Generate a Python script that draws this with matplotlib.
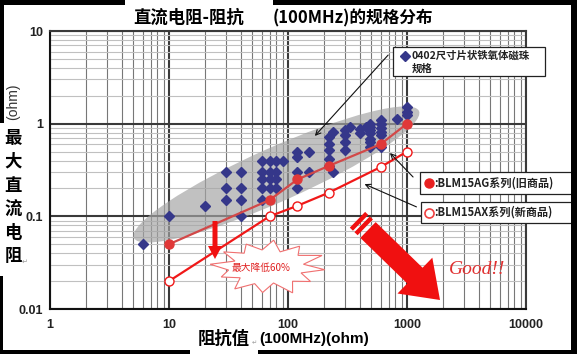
import numpy as np
import matplotlib
matplotlib.use('Agg')
import matplotlib.pyplot as plt
from matplotlib import patches
from matplotlib import transforms as mtransforms
from matplotlib.lines import Line2D

# ---------------- data ----------------
spec_x = [6, 10, 20,
          30, 30, 30,
          40, 40, 40, 40,
          60, 60, 60, 60, 60,
          70, 70, 70, 70,
          80, 80, 80, 80,
          90,
          120, 120, 120, 120,
          150, 150,
          220, 220, 220, 220, 220,
          240, 240,
          300, 300, 300, 300,
          330,
          400, 400,
          450,
          490, 490, 490, 490, 490, 490, 490,
          600, 600, 600, 600, 600, 600,
          820,
          1000, 1000, 1000]
spec_y = [0.05, 0.10, 0.13,
          0.15, 0.20, 0.30,
          0.10, 0.15, 0.20, 0.30,
          0.15, 0.20, 0.25, 0.30, 0.40,
          0.20, 0.25, 0.30, 0.40,
          0.20, 0.25, 0.30, 0.40,
          0.40,
          0.20, 0.30, 0.44, 0.50,
          0.30, 0.50,
          0.35, 0.42, 0.52, 0.61, 0.72,
          0.30, 0.82,
          0.52, 0.63, 0.75, 0.85,
          0.92,
          0.80, 0.88,
          0.92,
          0.56, 0.63, 0.69, 0.79, 0.85, 0.92, 1.00,
          0.56, 0.75, 0.82, 0.90, 1.00, 1.10,
          1.11,
          1.24, 1.35, 1.52]

ag_x = [10, 70, 120, 220, 600, 1000]
ag_y = [0.05, 0.15, 0.25, 0.35, 0.60, 1.00]

ax_x = [10, 70, 120, 220, 600, 1000]
ax_y = [0.02, 0.10, 0.13, 0.18, 0.34, 0.50]

x_ticks = [1, 10, 100, 1000, 10000]
x_tick_labels = ['1', '10', '100', '1000', '10000']
y_ticks = [0.01, 0.1, 1, 10]
y_tick_labels = ['0.01', '0.1', '1', '10']

title_left = '直流电阻-阻抗'
title_right = '(100MHz)的规格分布'
ylabel_unit = '(ohm)'
ylabel_chars = ['最', '大', '直', '流', '电', '阻']
xlabel_cjk = '阻抗值'
xlabel_rest = '(100MHz)(ohm)'
legend_spec = ['0402尺寸片状铁氧体磁珠', '规格']
legend_ag = ':BLM15AG系列(旧商品)'
legend_ax = ':BLM15AX系列(新商品)'
burst_text = '最大降低60%'
good_text = 'Good!!'

# ---------------- figure ----------------
W, H = 577, 354
fig = plt.figure(figsize=(W / 100, H / 100), dpi=100)
fig.patch.set_facecolor('white')
# top-left-origin pixel transform
PX = mtransforms.Affine2D().scale(1 / W, -1 / H).translate(0, 1) + fig.transFigure

CJK = ['Noto Sans CJK SC', 'DejaVu Sans']
LAT = ['Liberation Sans', 'DejaVu Sans']

L, R, T, B = 50, 526, 31, 309
ax = fig.add_axes([L / W, (H - B) / H, (R - L) / W, (B - T) / H])
ax.set_xscale('log')
ax.set_yscale('log')
ax.set_xlim(1, 10000)
ax.set_ylim(0.01, 10)

ax.grid(True, which='major', axis='both', color='#3a3a3a', lw=1.5, zorder=0.5)
ax.grid(True, which='minor', axis='x', color='#777777', lw=0.8, zorder=0.4)
ax.grid(True, which='minor', axis='y', color='#c0c0c0', lw=0.8, zorder=0.3)
ax.set_axisbelow(True)
for s in ['top', 'right']:
    ax.spines[s].set_color('#3a3a3a')
    ax.spines[s].set_linewidth(1.5)
for s in ['left', 'bottom']:
    ax.spines[s].set_color('#111111')
    ax.spines[s].set_linewidth(1.5)

ax.set_xticks(x_ticks)
ax.set_xticklabels(x_tick_labels)
ax.set_yticks(y_ticks)
ax.set_yticklabels(y_tick_labels)
ax.tick_params(which='both', length=0)
ax.tick_params(axis='x', pad=7)
ax.tick_params(axis='y', pad=5)
for lab in ax.get_xticklabels() + ax.get_yticklabels():
    lab.set_fontfamily(LAT)
    lab.set_fontweight('bold')
    lab.set_fontsize(9)
    lab.set_color('#222222')

# gray ellipse around the spec cloud
ell_tr = mtransforms.Affine2D().scale(fig.dpi / 100) + \
    mtransforms.ScaledTranslation(80, 0.283, ax.transData)
ell = patches.Ellipse((0, 0), 312, 54, angle=24, transform=ell_tr,
                      facecolor='#a4a4a4', edgecolor='none', alpha=0.68, zorder=1)
ax.add_patch(ell)

# series
ax.plot(spec_x, spec_y, linestyle='none', marker='D', ms=5.5, color='#35378a', zorder=3)
ax.plot(ag_x, ag_y, '-', color='#d24848', lw=1.6, zorder=4,
        marker='o', ms=6.5, mfc='#e03838', mec='#e03838')
ax.plot(ax_x, ax_y, '-', color='#f01818', lw=1.6, zorder=4,
        marker='o', ms=6.5, mfc='white', mec='#f01818', mew=1.0)

# ---------------- texts ----------------
fig.text(133, 18, title_left, transform=PX, fontfamily=CJK, fontsize=12.5,
         fontweight='bold', va='center', ha='left', color='black')
fig.text(273, 18, title_right, transform=PX, fontfamily=CJK, fontsize=12,
         fontweight='bold', va='center', ha='left', color='black')

fig.text(13, 102, ylabel_unit, transform=PX, fontfamily=LAT, fontsize=10,
         rotation=90, va='center', ha='center', color='#333333')
ys = [138, 162, 186, 210, 233, 256]
for ch, yy in zip(ylabel_chars, ys):
    fig.text(13, yy, ch, transform=PX, fontfamily=CJK, fontsize=12.5,
             fontweight='bold', va='center', ha='center', color='black')
fig.text(22, 262, '↵', transform=PX, fontfamily=['DejaVu Sans'], fontsize=5,
         va='center', ha='left', color='#999999')

fig.text(198, 339, xlabel_cjk, transform=PX, fontfamily=CJK, fontsize=12.5,
         fontweight='bold', va='center', ha='left', color='black')
fig.text(251.5, 343, '↵', transform=PX, fontfamily=['DejaVu Sans'], fontsize=4.5,
         va='center', ha='left', color='#999999')
fig.text(259, 339, xlabel_rest, transform=PX, fontfamily=LAT, fontsize=11,
         fontweight='bold', va='center', ha='left', color='black')

# ---------------- legend boxes ----------------
def box(x0, y0, w, h):
    fig.add_artist(patches.Rectangle((x0, y0), w, h, transform=PX, facecolor='white',
                                     edgecolor='#222222', lw=0.9, zorder=5))

box(393, 47, 152, 29)
fig.add_artist(Line2D([405], [56], transform=PX, marker='D', ms=5, color='#35378a',
                      linestyle='none', zorder=6))
fig.text(412, 56, legend_spec[0], transform=PX, fontfamily=CJK, fontsize=7.5,
         fontweight='bold', va='center', ha='left', color='#222222', zorder=6)
fig.text(412, 69, legend_spec[1], transform=PX, fontfamily=CJK, fontsize=7.5,
         fontweight='bold', va='center', ha='left', color='#222222', zorder=6)

box(420, 172, 153, 22)
fig.add_artist(Line2D([429], [183], transform=PX, marker='o', ms=6.5, color='#e82020',
                      linestyle='none', zorder=6))
fig.text(434, 183, legend_ag, transform=PX, fontfamily=CJK, fontsize=8,
         fontweight='bold', va='center', ha='left', color='#222222', zorder=6)

box(421, 202, 154, 21)
fig.add_artist(Line2D([429], [212.5], transform=PX, marker='o', ms=6.5, mfc='white',
                      mec='#f04040', mew=1.2, linestyle='none', zorder=6))
fig.text(434, 212.5, legend_ax, transform=PX, fontfamily=CJK, fontsize=8,
         fontweight='bold', va='center', ha='left', color='#222222', zorder=6)

# pointer arrows
def pointer(p_from, p_to):
    fig.add_artist(patches.FancyArrowPatch(p_from, p_to, transform=PX,
                                           arrowstyle='->', mutation_scale=9,
                                           lw=0.8, color='#111111', zorder=6))

pointer((390, 53), (313, 138))
pointer((415, 179), (388, 151))
pointer((419, 208), (362, 183))

# red down arrow
fig.add_artist(patches.FancyArrow(215, 221, 0, 38, width=5, head_width=14,
                                  head_length=13, length_includes_head=True,
                                  transform=PX, color='#f01010', lw=0, zorder=6))

# starburst
cx, cy = 268, 267
radii = [1.0, 0.62, 0.92, 0.68, 1.05, 0.6, 0.95, 0.66, 1.0, 0.63, 0.9, 0.7,
         1.02, 0.62, 0.96, 0.66, 0.93, 0.64, 1.0, 0.6, 0.95, 0.68, 1.04, 0.63]
n = len(radii)
ang = np.linspace(0, 2 * np.pi, n, endpoint=False) + 0.1
pts = np.column_stack([cx + 57 * np.array(radii) * np.cos(ang),
                       cy + 27 * np.array(radii) * np.sin(ang)])
fig.add_artist(patches.Polygon(pts, closed=True, transform=PX, facecolor='white',
                               edgecolor='#f07070', lw=0.8, zorder=6))
fig.text(261, 268, burst_text, transform=PX, fontfamily=CJK, fontsize=7,
         va='center', ha='center', color='#e02020', zorder=7)

# big red arrow with speed stripes
tail = np.array([368.0, 230.0])
tip = np.array([440.0, 300.0])
d = tip - tail
fig.add_artist(patches.FancyArrow(tail[0], tail[1], d[0], d[1], width=22,
                                  head_width=50, head_length=35,
                                  length_includes_head=True, transform=PX,
                                  color='#f01010', lw=0, zorder=6))
u = d / np.hypot(*d)
nrm = np.array([-u[1], u[0]])
for off in (6, 12.5):
    c = tail - off * u
    hl, ht = 11, 2.2
    poly = [c + hl * nrm + ht * u, c - hl * nrm + ht * u,
            c - hl * nrm - ht * u, c + hl * nrm - ht * u]
    fig.add_artist(patches.Polygon(poly, closed=True, transform=PX,
                                   facecolor='#f01010', edgecolor='none', zorder=6))

fig.text(477, 269, good_text, transform=PX, fontfamily=['Liberation Serif', 'DejaVu Serif'],
         fontstyle='italic', fontsize=14, va='center', ha='center',
         color='#e03030', zorder=7)

# ---------------- black screenshot borders ----------------
def blk(x0, y0, w, h):
    fig.add_artist(patches.Rectangle((x0, y0), w, h, transform=PX, facecolor='black',
                                     edgecolor='none', zorder=10))

blk(0, 0, 125, 4.5)
blk(273, 0, W - 273, 4.5)
blk(0, 0, 4, 123)
blk(0, 276, 3, H - 276)
blk(0, 350, 190, 4)
blk(258, 350, W - 258, 4)
blk(571, 0, 6, H)

fig.savefig('out.png', dpi=100, facecolor='white')
